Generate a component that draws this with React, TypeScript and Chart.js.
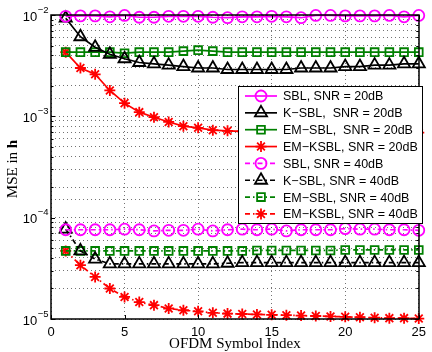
import React, { useEffect, useRef } from 'react';
import { Chart, registerables } from 'chart.js';

Chart.register(...registerables);

const symbolIndex = [1, 2, 3, 4, 5, 6, 7, 8, 9, 10, 11, 12, 13, 14, 15, 16, 17, 18, 19, 20, 21, 22, 23, 24, 25];

const sbl20 = [0.0097, 0.0098, 0.0098, 0.0096, 0.0099, 0.0095, 0.0095, 0.0097, 0.0097, 0.0097, 0.0095, 0.0094, 0.0096, 0.0096, 0.0097, 0.0096, 0.0094, 0.0099, 0.0099, 0.0098, 0.0098, 0.0098, 0.0099, 0.0096, 0.0099];
const ksbl20 = [0.0093, 0.0061, 0.0048, 0.0041, 0.0037, 0.0034, 0.0033, 0.0032, 0.0031, 0.0030, 0.0030, 0.0029, 0.0029, 0.0029, 0.0029, 0.0029, 0.0030, 0.0030, 0.0030, 0.0031, 0.0031, 0.0032, 0.0032, 0.0033, 0.0033];
const emsbl20 = [0.0043, 0.0043, 0.0043, 0.0043, 0.0042, 0.0043, 0.0043, 0.0043, 0.0044, 0.0045, 0.0044, 0.0043, 0.0043, 0.0043, 0.0043, 0.0043, 0.0043, 0.0043, 0.0043, 0.0043, 0.0043, 0.0043, 0.0043, 0.0043, 0.0043];
const emksbl20 = [0.0043, 0.0030, 0.0026, 0.0018, 0.00135, 0.0011, 0.00098, 0.00088, 0.00080, 0.00077, 0.00073, 0.00072, 0.00071, 0.00071, 0.00070, 0.00070, 0.00070, 0.00070, 0.00069, 0.00069, 0.00069, 0.00069, 0.00069, 0.00069, 0.00069];
const sbl40 = [7.6e-5, 7.6e-5, 7.6e-5, 7.6e-5, 7.7e-5, 7.6e-5, 7.4e-5, 7.5e-5, 7.5e-5, 7.7e-5, 7.4e-5, 7.6e-5, 7.7e-5, 7.6e-5, 7.7e-5, 7.4e-5, 7.6e-5, 7.6e-5, 7.6e-5, 7.8e-5, 7.7e-5, 7.7e-5, 7.6e-5, 7.6e-5, 7.5e-5];
const ksbl40 = [7.7e-5, 4.7e-5, 3.9e-5, 3.5e-5, 3.5e-5, 3.5e-5, 3.5e-5, 3.5e-5, 3.5e-5, 3.5e-5, 3.5e-5, 3.55e-5, 3.6e-5, 3.6e-5, 3.6e-5, 3.6e-5, 3.6e-5, 3.6e-5, 3.6e-5, 3.6e-5, 3.6e-5, 3.6e-5, 3.6e-5, 3.6e-5, 3.6e-5];
const emsbl40 = [4.7e-5, 4.7e-5, 4.7e-5, 4.7e-5, 4.7e-5, 4.7e-5, 4.7e-5, 4.7e-5, 4.7e-5, 4.7e-5, 4.7e-5, 4.7e-5, 4.7e-5, 4.75e-5, 4.75e-5, 4.75e-5, 4.75e-5, 4.75e-5, 4.75e-5, 4.8e-5, 4.8e-5, 4.8e-5, 4.8e-5, 4.8e-5, 4.8e-5];
const emksbl40 = [4.7e-5, 3.4e-5, 2.6e-5, 2.0e-5, 1.65e-5, 1.47e-5, 1.37e-5, 1.27e-5, 1.22e-5, 1.19e-5, 1.15e-5, 1.13e-5, 1.12e-5, 1.11e-5, 1.10e-5, 1.09e-5, 1.08e-5, 1.07e-5, 1.06e-5, 1.05e-5, 1.04e-5, 1.03e-5, 1.02e-5, 1.02e-5, 1.01e-5];

const seriesLabels = [
  'SBL, SNR = 20dB',
  'K\u2212SBL,  SNR = 20dB',
  'EM\u2212SBL,  SNR = 20dB',
  'EM\u2212KSBL, SNR = 20dB',
  'SBL, SNR = 40dB',
  'K\u2212SBL, SNR = 40dB',
  'EM\u2212SBL, SNR = 40dB',
  'EM\u2212KSBL, SNR = 40dB',
];
const seriesValues = [sbl20, ksbl20, emsbl20, emksbl20, sbl40, ksbl40, emsbl40, emksbl40];
const seriesColors = ['#ff00ff', '#000000', '#008000', '#ff0000', '#ff00ff', '#000000', '#008000', '#ff0000'];
const seriesMarkers = ['circle', 'triangle', 'rect', 'star', 'circle', 'triangle', 'rect', 'star'];
const seriesRadius = [5.5, 7, 5.5, 5.5, 5.5, 7, 5.5, 5.5];
const seriesDashed = [false, false, false, false, true, true, true, true];

const xTicks = [0, 5, 10, 15, 20, 25];
const yDecades = [-5, -4, -3, -2];
const xTitle = 'OFDM Symbol Index';
const yTitleMain = 'MSE in ';
const yTitleBold = 'h';

const DASH = [5, 3, 1.5, 3];
const LINE_W = 1.7;
const MARK_W = 1.8;

function drawMarker(ctx: CanvasRenderingContext2D, style: string, r: number, x: number, y: number, color: string) {
  ctx.save();
  ctx.strokeStyle = color;
  ctx.lineWidth = MARK_W;
  ctx.setLineDash([]);
  ctx.beginPath();
  if (style === 'circle') {
    ctx.arc(x, y, r, 0, Math.PI * 2);
  } else if (style === 'rect') {
    const s = Math.SQRT1_2 * r;
    ctx.rect(x - s, y - s, 2 * s, 2 * s);
  } else if (style === 'triangle') {
    const rad = -Math.PI / 2;
    ctx.moveTo(x + Math.cos(rad) * r, y + Math.sin(rad) * r);
    ctx.lineTo(x + Math.cos(rad + 2 * Math.PI / 3) * r, y + Math.sin(rad + 2 * Math.PI / 3) * r);
    ctx.lineTo(x + Math.cos(rad + 4 * Math.PI / 3) * r, y + Math.sin(rad + 4 * Math.PI / 3) * r);
    ctx.closePath();
  } else if (style === 'star') {
    for (let k = 0; k < 4; k++) {
      const ang = (k * Math.PI) / 4;
      ctx.moveTo(x + Math.cos(ang) * r, y + Math.sin(ang) * r);
      ctx.lineTo(x - Math.cos(ang) * r, y - Math.sin(ang) * r);
    }
  }
  ctx.stroke();
  ctx.restore();
}

const decorPlugin = {
  id: 'matlabDecor',
  afterDatasetsDraw(chart: any) {
    const { ctx, chartArea: a, scales } = chart;
    const xs = scales.x;
    const ys = scales.y;
    ctx.save();
    // box
    ctx.strokeStyle = '#000';
    ctx.lineWidth = 1.5;
    ctx.setLineDash([]);
    ctx.strokeRect(Math.round(a.left), Math.round(a.top), Math.round(a.right - a.left), Math.round(a.bottom - a.top));
    // tick marks inside
    ctx.lineWidth = 1;
    ctx.beginPath();
    for (const v of xTicks) {
      const px = Math.round(xs.getPixelForValue(v)) + 0.5;
      ctx.moveTo(px, a.bottom);
      ctx.lineTo(px, a.bottom - 4);
      ctx.moveTo(px, a.top);
      ctx.lineTo(px, a.top + 4);
    }
    for (let e = -5; e <= -2; e++) {
      for (let m = 1; m <= 9; m++) {
        const v = m * Math.pow(10, e);
        if (v > 1e-2 * 1.0001) continue;
        const py = Math.round(ys.getPixelForValue(v)) + 0.5;
        const len = m === 1 ? 4 : 2.5;
        ctx.moveTo(a.left, py);
        ctx.lineTo(a.left + len, py);
        ctx.moveTo(a.right, py);
        ctx.lineTo(a.right - len, py);
      }
    }
    ctx.stroke();

    // y tick labels
    ctx.fillStyle = '#000';
    ctx.textBaseline = 'middle';
    ctx.textAlign = 'left';
    for (const e of yDecades) {
      const py = ys.getPixelForValue(Math.pow(10, e));
      const base = '10';
      const sup = '\u2212' + String(-e);
      ctx.font = '13px "Liberation Sans", Arial, sans-serif';
      const w = ctx.measureText(base).width;
      ctx.font = '9.5px "Liberation Sans", Arial, sans-serif';
      const ws = ctx.measureText(sup).width;
      const right = a.left - 3;
      const x0 = right - ws - w;
      ctx.font = '13px "Liberation Sans", Arial, sans-serif';
      ctx.fillText(base, x0, py + 2);
      ctx.font = '9.5px "Liberation Sans", Arial, sans-serif';
      ctx.fillText(sup, x0 + w + 0.5, py - 5);
    }

    // x title
    ctx.font = '15px "Liberation Serif", "Times New Roman", serif';
    ctx.textAlign = 'center';
    ctx.textBaseline = 'middle';
    ctx.fillText(xTitle, (a.left + a.right) / 2, 344);

    // y title
    ctx.save();
    ctx.translate(13, 169);
    ctx.rotate(-Math.PI / 2);
    ctx.font = '15px "Liberation Serif", "Times New Roman", serif';
    const w1 = ctx.measureText(yTitleMain).width;
    ctx.font = 'bold 15px "Liberation Serif", "Times New Roman", serif';
    const w2 = ctx.measureText(yTitleBold).width;
    const start = -(w1 + w2) / 2;
    ctx.textAlign = 'left';
    ctx.font = '15px "Liberation Serif", "Times New Roman", serif';
    ctx.fillText(yTitleMain, start, 0);
    ctx.font = 'bold 15px "Liberation Serif", "Times New Roman", serif';
    ctx.fillText(yTitleBold, start + w1, 0);
    ctx.restore();

    // legend
    const lx = 238, ly = 86, lw = 184, lh = 137;
    ctx.fillStyle = '#fff';
    ctx.fillRect(lx, ly, lw, lh);
    ctx.strokeStyle = '#000';
    ctx.lineWidth = 1;
    ctx.strokeRect(lx + 0.5, ly + 0.5, lw, lh);
    const rowH = 16.85;
    for (let i = 0; i < seriesLabels.length; i++) {
      const cy = ly + 10 + i * rowH;
      const color = seriesColors[i];
      ctx.strokeStyle = color;
      ctx.lineWidth = LINE_W;
      ctx.setLineDash(seriesDashed[i] ? DASH : []);
      ctx.beginPath();
      ctx.moveTo(245, cy);
      ctx.lineTo(277, cy);
      ctx.stroke();
      ctx.setLineDash([]);
      drawMarker(ctx, seriesMarkers[i], seriesRadius[i], 261, cy, color);
      ctx.fillStyle = '#000';
      ctx.font = '12.5px "Liberation Sans", Arial, sans-serif';
      ctx.textAlign = 'left';
      ctx.textBaseline = 'middle';
      ctx.fillText(seriesLabels[i], 283, cy + 1);
    }
    ctx.restore();
  },
};

export default function App() {
  const canvasRef = useRef<HTMLCanvasElement | null>(null);

  useEffect(() => {
    const canvas = canvasRef.current;
    if (!canvas) return;
    const datasets = seriesLabels.map((label, i) => ({
      label,
      data: symbolIndex.map((x, j) => ({ x, y: seriesValues[i][j] })),
      borderColor: seriesColors[i],
      backgroundColor: 'rgba(0,0,0,0)',
      borderWidth: LINE_W,
      borderDash: seriesDashed[i] ? DASH : [],
      pointStyle: seriesMarkers[i],
      pointRadius: seriesRadius[i],
      pointBorderWidth: MARK_W,
      pointBorderColor: seriesColors[i],
      pointBackgroundColor: 'rgba(0,0,0,0)',
      tension: 0,
      clip: false,
      order: i,
    }));
    const chart = new Chart(canvas, {
      type: 'line',
      data: { datasets },
      options: {
        animation: false,
        responsive: false,
        events: [],
        layout: { padding: { left: 0, top: 15, right: 8, bottom: 0 } },
        plugins: { legend: { display: false }, tooltip: { enabled: false } },
        scales: {
          x: {
            type: 'linear',
            min: 0,
            max: 25,
            ticks: {
              stepSize: 5,
              color: '#000',
              padding: 6,
              font: { family: '"Liberation Sans", Arial, sans-serif', size: 13 },
            },
            grid: { color: 'rgba(0,0,0,0.55)', lineWidth: 1, drawTicks: false },
            border: { display: false, dash: [1, 3] },
            afterFit: (s: any) => { s.height = 33; },
          },
          y: {
            type: 'logarithmic',
            min: 1e-5,
            max: 1e-2,
            ticks: { display: false, autoSkip: false },
            grid: { color: 'rgba(0,0,0,0.55)', lineWidth: 1, drawTicks: false },
            border: { display: false, dash: [1, 3] },
            afterFit: (s: any) => { s.width = 51; },
          },
        },
      } as any,
      plugins: [decorPlugin],
    });
    return () => chart.destroy();
  }, []);

  return (
    <div style={{ position: 'absolute', left: 0, top: 0, width: 432, height: 352, background: '#fff' }}>
      <canvas ref={canvasRef} width={432} height={352} style={{ width: 432, height: 352 }} />
    </div>
  );
}
